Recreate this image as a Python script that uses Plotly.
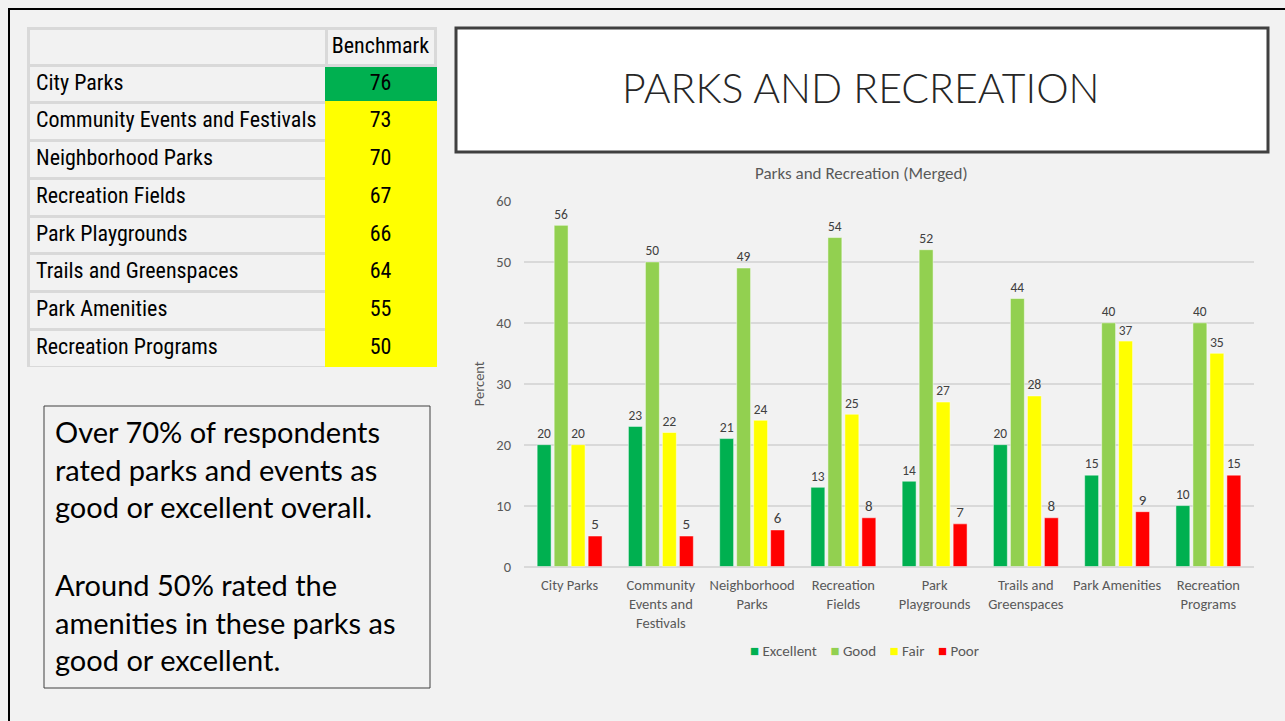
import plotly.graph_objects as go

W, H = 1285, 721

categories = ["City Parks", "Community<br>Events and<br>Festivals", "Neighborhood<br>Parks",
              "Recreation<br>Fields", "Park<br>Playgrounds", "Trails and<br>Greenspaces",
              "Park Amenities", "Recreation<br>Programs"]
excellent = [20, 23, 21, 13, 14, 20, 15, 10]
good = [56, 50, 49, 54, 52, 44, 40, 40]
fair = [20, 22, 24, 25, 27, 28, 37, 35]
poor = [5, 5, 6, 8, 7, 8, 9, 15]

table_items = ["City Parks", "Community Events and Festivals", "Neighborhood Parks",
               "Recreation Fields", "Park Playgrounds", "Trails and Greenspaces",
               "Park Amenities", "Recreation Programs"]
benchmark = [76, 73, 70, 67, 66, 64, 55, 50]
benchmark_colors = ["#00b050"] + ["#ffff00"] * 7

series = [("Excellent", excellent, "#00b050"), ("Good", good, "#92d050"),
          ("Fair", fair, "#ffff00"), ("Poor", poor, "#ff0000")]

NARROW = "Roboto Condensed"
CAL = "Carlito"

def px(x):
    return x / W

def py(y):
    return 1 - y / H

fig = go.Figure()
for name, vals, col in series:
    fig.add_trace(go.Bar(
        x=categories, y=vals, name=name, showlegend=False,
        marker=dict(color=col, line=dict(color="rgba(255,255,255,0.6)", width=0.8)),
        text=vals, textposition="outside", cliponaxis=False,
        textfont=dict(family=CAL, size=15, color="#404040"),
    ))

# non-breaking spaces keep each table item on a single line
table_display = [t.replace(" ", "\u00a0") for t in table_items]

fig.add_trace(go.Table(
    domain=dict(x=[px(28), px(435)], y=[py(367), py(28)]),
    columnwidth=[298, 109],
    header=dict(values=["", "Benchmark"], height=37,
                fill_color="#f2f2f2", line=dict(color="#d9d9d9", width=3),
                align=["left", "center"],
                font=dict(family=NARROW, size=22, color="#000000")),
    cells=dict(values=[table_display, benchmark], height=37.75,
               fill_color=[["#f2f2f2"] * 8, benchmark_colors],
               line=dict(color=[["#d9d9d9"] * 8, benchmark_colors], width=3),
               align=["left", "center"],
               font=dict(family=NARROW, size=22, color="#000000")),
))

shapes = [
    # slide border
    dict(type="rect", xref="paper", yref="paper", x0=px(9), x1=px(1300), y0=py(740), y1=py(9),
         line=dict(color="#000000", width=2), fillcolor="rgba(0,0,0,0)", layer="below"),
    # title box
    dict(type="rect", xref="paper", yref="paper", x0=px(456), x1=px(1268), y0=py(152), y1=py(28),
         line=dict(color="#404040", width=3), fillcolor="#ffffff", layer="below"),
    # text box
    dict(type="rect", xref="paper", yref="paper", x0=px(44), x1=px(430), y0=py(688), y1=py(406),
         line=dict(color="#404040", width=1), fillcolor="rgba(0,0,0,0)"),
]

legend_html = "&nbsp;&nbsp;&nbsp;&nbsp;".join(
    f'<span style="color:{col}">■</span> {name}' for name, _, col in series)

annotations = [
    dict(text="PARKS AND RECREATION", x=px(861), y=py(88), xref="paper", yref="paper",
         xanchor="center", yanchor="middle",
         showarrow=False, font=dict(family="Lato", size=41, color="#262626", weight=300)),
    dict(text="Parks and Recreation (Merged)", x=px(862), y=py(173), xref="paper", yref="paper",
         xanchor="center", yanchor="middle",
         showarrow=False, font=dict(family=CAL, size=17, color="#595959")),
    dict(text="Over 70% of respondents<br>rated parks and events as<br>good or excellent overall.",
         x=px(53), y=py(469), xref="paper", yref="paper", xanchor="left", yanchor="middle",
         align="left", showarrow=False, font=dict(family="Lato", size=29, color="#000000")),
    dict(text="Around 50% rated the<br>amenities in these parks as<br>good or excellent.",
         x=px(53), y=py(622), xref="paper", yref="paper", xanchor="left", yanchor="middle",
         align="left", showarrow=False, font=dict(family="Lato", size=29, color="#000000")),
    dict(text=legend_html, x=px(864), y=py(651), xref="paper", yref="paper",
         xanchor="center", yanchor="middle", showarrow=False,
         font=dict(family=CAL, size=15, color="#595959")),
]

fig.update_layout(
    width=W, height=H,
    margin=dict(l=0, r=0, t=0, b=0),
    paper_bgcolor="#f2f2f2", plot_bgcolor="#f2f2f2",
    barmode="group", bargap=0.255, bargroupgap=0.18,
    shapes=shapes, annotations=annotations,
    showlegend=False,
    xaxis=dict(domain=[px(524), px(1254)], automargin=False, showline=False,
               tickfont=dict(family=CAL, size=14.5, color="#595959"), ticks="",
               ticklabelstandoff=8),
    yaxis=dict(domain=[py(566.5), py(201)], automargin=False, range=[0, 60], dtick=10,
               gridcolor="#d9d9d9", gridwidth=1.5, zeroline=True, zerolinecolor="#d9d9d9",
               zerolinewidth=1.5, showline=False, ticks="",
               tickfont=dict(family=CAL, size=14.5, color="#595959"), ticklabelstandoff=12,
               title=dict(text="Percent", font=dict(family=CAL, size=14.5, color="#595959"),
                          standoff=8)),
)

fig.write_html("out.html")
